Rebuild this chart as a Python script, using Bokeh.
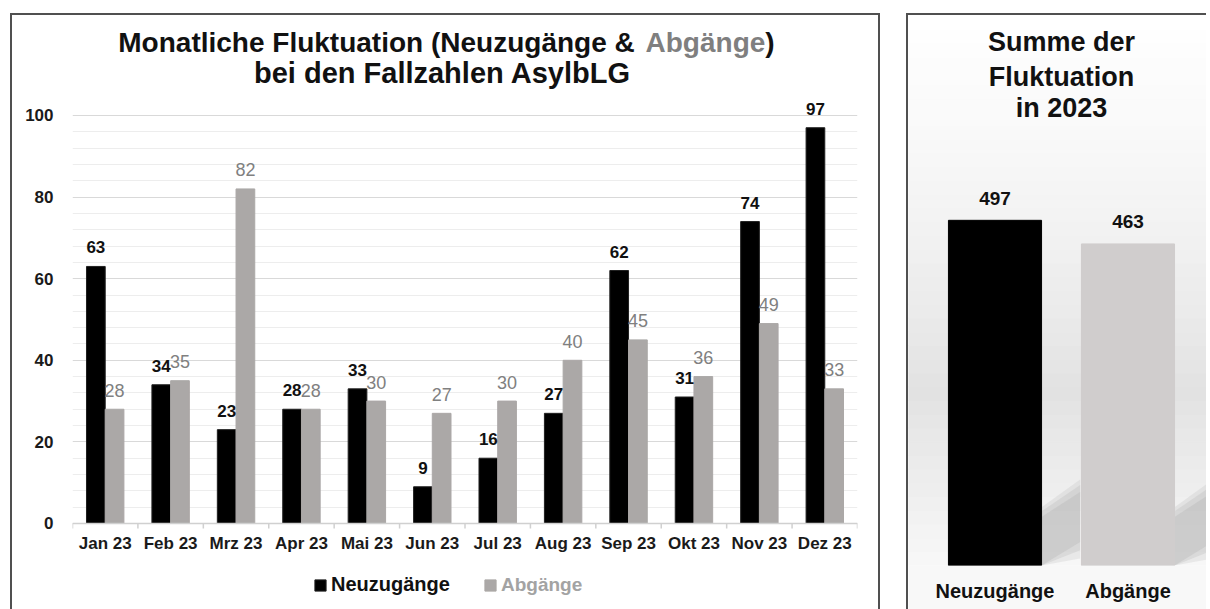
import numpy as np
from bokeh.plotting import figure
from bokeh.models import (FactorRange, Range1d, FixedTicker, ColumnDataSource,
                          Legend, LegendItem, Spacer)
from bokeh.transform import dodge
from bokeh.layouts import row, column
from bokeh.core.properties import value
from bokeh.embed import file_html
from bokeh.resources import INLINE

# ---------------- data ----------------
months = ["Jan 23", "Feb 23", "Mrz 23", "Apr 23", "Mai 23", "Jun 23",
          "Jul 23", "Aug 23", "Sep 23", "Okt 23", "Nov 23", "Dez 23"]
neuzugaenge = [63, 34, 23, 28, 33, 9, 16, 27, 62, 31, 74, 97]
abgaenge = [28, 35, 82, 28, 30, 27, 30, 40, 45, 36, 49, 33]
y_ticks = [0, 20, 40, 60, 80, 100]
y_minor = [4, 8, 12, 16, 24, 28, 32, 36, 44, 48, 52, 56, 64, 68, 72, 76, 84, 88, 92, 96]

summary_labels = ["Neuzugänge", "Abgänge"]
summary_values = [497, 463]

FONT = "Liberation Sans"
BLACK = "#000000"
GREY = "#ABA8A7"
GREY_TXT = "#808080"
BORDER = "2px solid #505050"

# ---------------- left chart ----------------
src = ColumnDataSource(dict(month=months, neu=neuzugaenge, ab=abgaenge,
                            neu_t=[str(v) for v in neuzugaenge],
                            ab_t=[str(v) for v in abgaenge]))

p = figure(x_range=FactorRange(factors=months, range_padding=0),
           y_range=Range1d(-20.59, 123.28),
           width=870, height=596, output_backend="svg", toolbar_location=None,
           min_border_left=60, min_border_right=25, min_border_top=5,
           min_border_bottom=4)
p.frame_align = False
p.styles = {"border-top": BORDER, "border-left": BORDER, "border-right": BORDER}
p.outline_line_color = None
p.background_fill_color = "white"
p.border_fill_color = "white"

p.xgrid.grid_line_color = None
p.yaxis.ticker = FixedTicker(ticks=y_ticks, minor_ticks=y_minor)
p.ygrid.grid_line_color = "#d9d9d9"
p.ygrid.minor_grid_line_color = "#ededed"

p.yaxis.axis_line_color = None
p.yaxis.major_tick_line_color = None
p.yaxis.minor_tick_line_color = None
p.yaxis.major_tick_out = 0
p.yaxis.minor_tick_out = 0
p.yaxis.major_label_standoff = 19
p.yaxis.major_label_text_font = FONT
p.yaxis.major_label_text_font_style = "bold"
p.yaxis.major_label_text_font_size = "17px"
p.yaxis.major_label_text_color = "#1a1a1a"

p.xaxis.fixed_location = 0
p.xaxis.axis_line_color = "#d0d0d0"
p.xaxis.axis_line_width = 1.5
p.xaxis.major_tick_line_color = None
p.xaxis.minor_tick_line_color = None
p.xaxis.major_tick_out = 0
p.xaxis.minor_tick_out = 0
p.xaxis.major_label_standoff = 11
p.xaxis.major_label_text_font = FONT
p.xaxis.major_label_text_font_style = "bold"
p.xaxis.major_label_text_font_size = "17px"
p.xaxis.major_label_text_color = "#1a1a1a"

# small separator ticks between the month categories
bounds = list(range(len(months) + 1))
p.segment(x0=bounds, y0=0, x1=bounds, y1=-1.25, line_color="#d0d0d0", line_width=1.5)

r_neu = p.vbar(x=dodge("month", -0.143, range=p.x_range), top="neu", width=0.286,
               source=src, fill_color=BLACK, line_color="#202020", line_width=1)
r_ab = p.vbar(x=dodge("month", 0.143, range=p.x_range), top="ab", width=0.286,
              source=src, fill_color=GREY, line_color=GREY, line_width=1)

p.text(x=dodge("month", -0.143, range=p.x_range), y="neu", text="neu_t", source=src,
       text_font=value(FONT), text_font_style="bold", text_font_size="17px",
       text_color="#111111", text_align="center", text_baseline="alphabetic",
       y_offset=-19)
p.text(x=dodge("month", 0.143, range=p.x_range), y="ab", text="ab_t", source=src,
       text_font=value(FONT), text_font_size="18px",
       text_color=GREY_TXT, text_align="center", text_baseline="alphabetic",
       y_offset=-19)

# title (two colours in line 1)
p.text(x=[0.70, 8.76, 10.59], y=[118.0, 118.0, 118.0],
       text=["Monatliche Fluktuation (Neuzugänge &", "Abgänge", ")"],
       text_color=["#111111", "#7f7f7f", "#111111"],
       text_font=value(FONT), text_font_style="bold", text_font_size="28px",
       text_align="left", text_baseline="alphabetic")
p.text(x=[5.656], y=[110.4], text=["bei den Fallzahlen AsylbLG"],
       text_color="#111111",
       text_font=value(FONT), text_font_style="bold", text_font_size="29px",
       text_align="center", text_baseline="alphabetic")

leg_common = dict(orientation="horizontal", padding=0, margin=0,
                  border_line_color=None, background_fill_alpha=0,
                  glyph_width=14, glyph_height=14, label_standoff=4,
                  label_text_font=FONT,
                  label_text_font_style="bold", label_height=14)
leg1 = Legend(items=[LegendItem(label=value("Neuzugänge"), renderers=[r_neu])],
              location=(241, 11), label_text_color="#111111",
              label_text_font_size="20px", **leg_common)
leg2 = Legend(items=[LegendItem(label=value("Abgänge"), renderers=[r_ab])],
              location=(411, 11), label_text_color="#a3a3a3",
              label_text_font_size="19px", **leg_common)
p.add_layout(leg1, "center")
p.add_layout(leg2, "center")

# ---------------- right chart ----------------
sx = [i + 0.5 for i in range(len(summary_labels))]
bar_w = 0.7
x0, x1 = -0.1504, 2.1053
ssrc = ColumnDataSource(dict(x=sx, v=summary_values,
                             t=[str(v) for v in summary_values],
                             c=[BLACK, "#D0CDCD"]))

q = figure(x_range=Range1d(x0, x1), y_range=Range1d(0, 791.9),
           width=300, height=596, output_backend="svg", toolbar_location=None,
           y_axis_location=None,
           min_border_left=0, min_border_right=0, min_border_top=0,
           min_border_bottom=46)
q.frame_align = False
q.styles = {"border-left": BORDER, "border-top": BORDER}
q.outline_line_color = None
q.grid.grid_line_color = None
q.border_fill_color = "#f8f8f8"

# soft vertical background gradient (decoration)
edges = np.linspace(0, 791.9, 41)
stops_y = [0, 137, 252, 382, 598, 792]
stops_g = [248, 236, 226, 236, 248, 255]
mids = (edges[:-1] + edges[1:]) / 2
greys = np.interp(mids, stops_y, stops_g).round().astype(int)
cols = ["#%02x%02x%02x" % (g, g, g) for g in greys]
q.quad(left=x0, right=x1, bottom=edges[:-1], top=edges[1:], fill_color=cols,
       line_color=cols, line_width=1)

# soft drop shadows to the right of the bars (decoration, layered for softness)
for k, (top_n, top_f, bot_f, alpha) in enumerate([(84, 124, 10, 0.18),
                                                  (78, 116, 22, 0.22),
                                                  (70, 106, 34, 0.25)]):
    sh_xs, sh_ys = [], []
    for xi in sx:
        r = xi + bar_w / 2
        sh_xs.append([r, r, r + 0.29, r + 0.29])
        sh_ys.append([0, top_n, top_f, bot_f])
    q.patches(xs=sh_xs, ys=sh_ys, fill_color="#a8a8a8", fill_alpha=alpha,
              line_color=None)

q.vbar(x="x", top="v", width=bar_w, source=ssrc, fill_color="c", line_color="c")
q.text(x="x", y="v", text="t", source=ssrc, text_font=value(FONT),
       text_font_style="bold", text_font_size="19px", text_color="#111111",
       text_align="center", text_baseline="alphabetic", y_offset=-22)

mid = len(summary_labels) / 2
q.text(x=[mid, mid, mid], y=[753.1, 702.7, 658.0],
       text=["Summe der", "Fluktuation", "in 2023"],
       text_font=value(FONT), text_font_style="bold", text_font_size="27px",
       text_color="#111111", text_align="center", text_baseline="alphabetic")

q.xaxis.ticker = FixedTicker(ticks=sx)
q.xaxis.major_label_overrides = {x: lab for x, lab in zip(sx, summary_labels)}
q.xaxis.axis_line_color = None
q.xaxis.major_tick_line_color = None
q.xaxis.minor_tick_line_color = None
q.xaxis.major_tick_out = 0
q.xaxis.minor_tick_out = 0
q.xaxis.major_label_standoff = 14
q.xaxis.major_label_text_font = FONT
q.xaxis.major_label_text_font_style = "bold"
q.xaxis.major_label_text_font_size = "20px"
q.xaxis.major_label_text_color = "#111111"

layout = column(Spacer(height=13),
                row(Spacer(width=10), p, Spacer(width=26), q))
open("out.html", "w").write(file_html(layout, INLINE))
